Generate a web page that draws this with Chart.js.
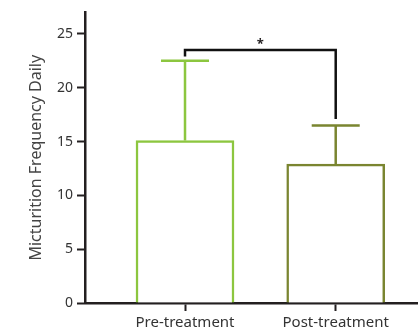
<!DOCTYPE html>
<html>
<head>
<meta charset="utf-8">
<script src="https://cdn.jsdelivr.net/npm/chart.js@4/dist/chart.umd.min.js"></script>
<style>
html,body{margin:0;padding:0;background:#fff;}
#wrap{width:418px;height:334px;}
</style>
</head>
<body>
<div id="wrap"><canvas id="c" width="418" height="334"></canvas></div>
<script>
const categories = ['Pre-treatment', 'Post-treatment'];
const means = [15.1, 12.9];
const errTops = [22.5, 16.5];
const yTicks = [0, 5, 10, 15, 20, 25];
const barColors = ['#8cc63f', '#7a8530'];
const bracketEnds = [22.9, 17.1];
const bracketTop = 23.5;
const sigLabel = '*';

const AXIS = '#231f20';

const overlay = {
  id: 'overlay',
  afterDatasetsDraw(chart) {
    const ctx = chart.ctx;
    const xs = chart.scales.x, ys = chart.scales.y;
    ctx.save();
    ctx.lineCap = 'butt';
    means.forEach((m, i) => {
      const x = xs.getPixelForValue(i);
      const y0 = ys.getPixelForValue(m);
      const y1 = ys.getPixelForValue(errTops[i]);
      ctx.strokeStyle = barColors[i];
      ctx.lineWidth = 2.5;
      ctx.beginPath();
      ctx.moveTo(x, y0);
      ctx.lineTo(x, y1);
      ctx.moveTo(x - 24, y1);
      ctx.lineTo(x + 24, y1);
      ctx.stroke();
    });
    const xa = xs.getPixelForValue(0), xb = xs.getPixelForValue(1);
    const yt = ys.getPixelForValue(bracketTop);
    ctx.strokeStyle = '#111';
    ctx.lineWidth = 2.5;
    ctx.lineJoin = 'miter';
    ctx.beginPath();
    ctx.moveTo(xa, ys.getPixelForValue(bracketEnds[0]));
    ctx.lineTo(xa, yt);
    ctx.lineTo(xb, yt);
    ctx.lineTo(xb, ys.getPixelForValue(bracketEnds[1]));
    ctx.stroke();
    ctx.fillStyle = '#231f20';
    ctx.font = 'bold 13px "Noto Sans"';
    ctx.textAlign = 'center';
    ctx.textBaseline = 'middle';
    ctx.fillText(sigLabel, (xa + xb) / 2, yt - 6);
    ctx.restore();
  }
};

new Chart(document.getElementById('c'), {
  type: 'bar',
  data: {
    datasets: [{
      data: means.map((v, i) => ({x: i, y: v})),
      backgroundColor: '#ffffff',
      borderColor: barColors,
      borderWidth: 2.5,
      borderSkipped: 'bottom',
      barThickness: 98
    }]
  },
  options: {
    responsive: false,
    animation: false,
    devicePixelRatio: 1,
    layout: {padding: {top: 12, right: 0, left: 0, bottom: 0}},
    plugins: {legend: {display: false}, tooltip: {enabled: false}},
    scales: {
      x: {
        type: 'linear',
        offset: false,
        grace: 0,
        min: -0.6636,
        max: 1.546,
        afterBuildTicks(s) { s.ticks = categories.map((c, i) => ({value: i})); },
        afterFit(s) { s.height = 31; },
        grid: {offset: false, drawOnChartArea: false, drawTicks: true, tickLength: 8, tickWidth: 2, tickColor: AXIS},
        border: {display: true, color: AXIS, width: 2.5},
        ticks: {
          padding: 3,
          color: '#333',
          font: {family: 'Noto Sans', size: 15},
          maxRotation: 0,
          autoSkip: false,
          callback: (v) => categories[v]
        }
      },
      y: {
        min: 0,
        max: 27,
        afterBuildTicks(s) { s.ticks = yTicks.map(v => ({value: v})); },
        afterFit(s) { s.width = 85; },
        grid: {drawOnChartArea: false, drawTicks: true, tickLength: 8, tickWidth: 2, tickColor: AXIS},
        border: {display: true, color: AXIS, width: 2.5},
        ticks: {
          padding: 4,
          color: '#333',
          font: {family: 'Noto Sans', size: 14}
        },
        title: {
          display: true,
          text: 'Micturition Frequency Daily',
          color: '#444',
          font: {family: 'Noto Sans', size: 16},
          padding: {top: 27, bottom: 4}
        }
      }
    }
  },
  plugins: [overlay]
});
</script>
</body>
</html>
